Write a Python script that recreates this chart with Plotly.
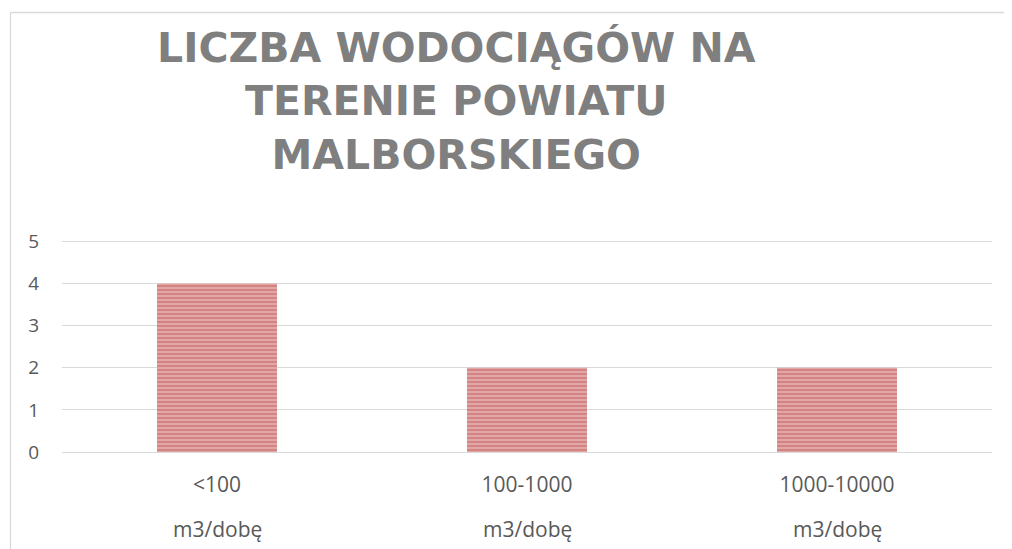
import plotly.graph_objects as go

categories = ["<100", "100-1000", "1000-10000"]
unit_label = "m3/dobę"
values = [4, 2, 2]
title_lines = ["LICZBA WODOCIĄGÓW NA", "TERENIE POWIATU", "MALBORSKIEGO"]

OFF = 8  # page body margin
W, H = 1012 - OFF, 549 - OFF
# target pixel geometry in the window
PL, PR, PT, PB = 62, 992, 240, 452
L, R, T, B = PL - OFF, W - (PR - OFF), PT - OFF, H - (PB - OFF)
pw, ph = W - L - R, H - T - B

def px_x(x):
    return (x - OFF - L) / pw

def px_y(y):
    return (H - B - (y - OFF)) / ph

fig = go.Figure(go.Bar(
    x=categories,
    y=values,
    marker=dict(
        color="#E6B6B5",
        line=dict(width=0),
        pattern=dict(shape="-", fgcolor="#C0504D", bgcolor="#E6B6B5", size=4, solidity=0.65),
    ),
    hoverinfo="skip",
))

unit_annotations = [
    dict(text=unit_label, xref="x", yref="paper", x=c, y=px_y(529),
         xanchor="center", yanchor="middle", showarrow=False,
         font=dict(family="Open Sans", size=21, color="#595959"))
    for c in categories
]

fig.update_layout(
    width=W, height=H,
    margin=dict(l=L, r=R, t=T, b=B),
    paper_bgcolor="white",
    plot_bgcolor="white",
    bargap=0.613,
    showlegend=False,
    font=dict(family="Open Sans", color="#595959", size=20),
    xaxis=dict(
        tickmode="array", tickvals=categories, ticktext=categories,
        showgrid=False, showline=False, zeroline=False, ticks="",
        ticklabelstandoff=18, automargin=False,
        tickfont=dict(size=21, color="#595959"),
    ),
    yaxis=dict(
        range=[0, 5.03], tickvals=[0, 1, 2, 3, 4, 5], showgrid=True,
        gridcolor="#D9D9D9", gridwidth=1.3,
        zeroline=True, zerolinecolor="#D9D9D9", zerolinewidth=1.3,
        showline=False, ticks="", ticklabelstandoff=22, automargin=False,
        tickfont=dict(size=19, color="#595959"),
    ),
    annotations=[
        dict(text="<br>".join(title_lines), xref="paper", yref="paper",
             x=px_x(456), y=px_y(22), xanchor="center", yanchor="top",
             showarrow=False, align="center",
             font=dict(family="DejaVu Sans", size=41, color="#7F7F7F", weight="bold")),
    ] + unit_annotations,
    shapes=[
        dict(type="line", xref="paper", yref="paper",
             x0=px_x(10.5), x1=px_x(10.5), y0=px_y(12.5), y1=px_y(560),
             line=dict(color="#D9D9D9", width=1.3)),
        dict(type="line", xref="paper", yref="paper",
             x0=px_x(10.5), x1=px_x(1020), y0=px_y(12.5), y1=px_y(12.5),
             line=dict(color="#D9D9D9", width=1.3)),
    ],
)

fig.write_html("out.html", config=dict(displayModeBar=False))
